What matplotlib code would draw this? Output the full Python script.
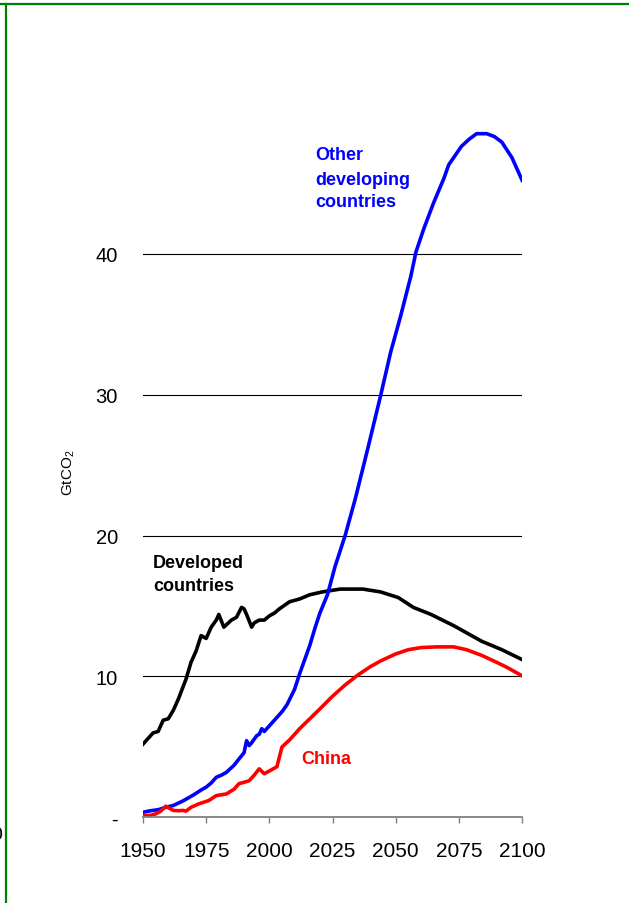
import numpy as np
import matplotlib.pyplot as plt
from matplotlib.lines import Line2D

plt.rcParams['font.family'] = ['Liberation Sans', 'DejaVu Sans']
plt.rcParams['mathtext.default'] = 'regular'

# dane (GtCO2)
years_dev = [1950, 1952, 1954, 1956, 1958, 1960, 1962, 1964, 1967, 1969, 1971, 1973,
             1975, 1977, 1979, 1980, 1982, 1985, 1987, 1989, 1990, 1991, 1993, 1994,
             1996, 1998, 2000, 2002, 2004, 2008, 2012, 2016, 2021, 2028, 2037, 2044,
             2051, 2057, 2064, 2073, 2084, 2092, 2100]
developed = [5.2, 5.6, 6.0, 6.1, 6.9, 7.0, 7.6, 8.4, 9.8, 11.0, 11.8, 12.9,
             12.7, 13.5, 14.0, 14.4, 13.5, 14.0, 14.2, 14.9, 14.8, 14.4, 13.5, 13.8,
             14.0, 14.0, 14.3, 14.5, 14.8, 15.3, 15.5, 15.8, 16.0, 16.2, 16.2, 16.0,
             15.6, 14.9, 14.4, 13.6, 12.5, 11.9, 11.2]

years_chn = [1950, 1953, 1955, 1957, 1959, 1960, 1962, 1964, 1966, 1967, 1969, 1972,
             1976, 1979, 1983, 1986, 1988, 1990, 1992, 1994, 1996, 1998, 2000, 2003,
             2005, 2008, 2012, 2016, 2020, 2025, 2030, 2035, 2040, 2044, 2050, 2055,
             2060, 2066, 2073, 2078, 2084, 2090, 2094, 2100]
china = [0.13, 0.15, 0.25, 0.45, 0.8, 0.7, 0.5, 0.48, 0.5, 0.45, 0.72, 0.96,
         1.2, 1.55, 1.67, 2.0, 2.4, 2.5, 2.6, 3.0, 3.45, 3.1, 3.3, 3.6,
         5.0, 5.5, 6.3, 7.0, 7.7, 8.6, 9.4, 10.1, 10.7, 11.1, 11.6, 11.9,
         12.05, 12.1, 12.1, 11.9, 11.5, 11.0, 10.65, 10.05]

years_oth = [1950, 1953, 1956, 1959, 1962, 1966, 1970, 1973, 1975, 1977, 1979, 1981,
             1983, 1986, 1988, 1990, 1991, 1992, 1993, 1995, 1996, 1997, 1998, 1999,
             2002, 2005, 2007, 2010, 2012, 2014, 2016, 2018, 2020, 2023, 2026, 2030,
             2034, 2039, 2044, 2048, 2052, 2056, 2058, 2061, 2065, 2069, 2071, 2076,
             2079, 2082, 2086, 2089, 2092, 2096, 2100]
other = [0.37, 0.48, 0.55, 0.72, 0.85, 1.19, 1.6, 1.95, 2.15, 2.45, 2.85, 3.0,
         3.2, 3.7, 4.15, 4.6, 5.45, 5.1, 5.3, 5.8, 5.9, 6.3, 6.1, 6.3,
         6.9, 7.5, 8.0, 9.1, 10.2, 11.2, 12.2, 13.4, 14.5, 15.8, 17.8, 20.0,
         22.6, 26.2, 29.9, 33.0, 35.6, 38.4, 40.1, 41.7, 43.6, 45.3, 46.3, 47.6,
         48.1, 48.5, 48.5, 48.3, 47.9, 46.8, 45.2]

xticks = [1950, 1975, 2000, 2025, 2050, 2075, 2100]
yticks = [0, 10, 20, 30, 40]
ylabels = ['-', '10', '20', '30', '40']

fig = plt.figure(figsize=(6.29, 9.04), dpi=100)
ax = fig.add_axes([0.2273, 0.0946, 0.6027, 0.7798])

ax.plot(years_dev, developed, color='black', lw=2.6, solid_joinstyle='round')
ax.plot(years_oth, other, color='#0000ff', lw=2.6, solid_joinstyle='round')
ax.plot(years_chn, china, color='#ff0000', lw=2.6, solid_joinstyle='round')

ax.set_xlim(1950, 2100)
ax.set_ylim(0, 50)
for v in yticks[1:]:
    ax.axhline(v, color='black', lw=0.8, zorder=0)

ax.set_xticks(xticks)
ax.set_yticks(yticks)
ax.set_yticklabels(ylabels)
ax.tick_params(axis='x', direction='out', length=4, width=1, color='#808080',
               labelsize=15, pad=13)
ax.tick_params(axis='y', length=0, labelsize=14.5, pad=18)
for s in ['left', 'right', 'top']:
    ax.spines[s].set_visible(False)
ax.spines['bottom'].set_color('#808080')
ax.spines['bottom'].set_linewidth(1.3)

ax.set_ylabel('GtCO$_2$', fontsize=11)
ax.yaxis.set_label_coords(-0.175, 0.49)

# opisy serii
bold = dict(fontsize=13, fontweight='bold', va='baseline', ha='left')
ax.text(2018, 46.7, 'Other', color='#0000ff', **bold)
ax.text(2018, 44.9, 'developing', color='#0000ff', **bold)
ax.text(2018, 43.37, 'countries', color='#0000ff', **bold)
ax.text(1954, 17.74, 'Developed', color='black', **bold)
ax.text(1954, 16.13, 'countries', color='black', **bold)
ax.text(2012.8, 3.87, 'China', color='#ff0000', fontsize=13, fontweight='bold',
        va='baseline', ha='left')

# zielona ramka i uciety znak z lewej
fig.add_artist(Line2D([0, 1], [1 - 5 / 904, 1 - 5 / 904], color='#008000', lw=1.6))
fig.add_artist(Line2D([5.5 / 629, 5.5 / 629], [0, 1 - 5 / 904], color='#008000', lw=1.6))
fig.text(-9 / 629, 1 - 836 / 904, '0', fontsize=14, va='center', ha='left')

plt.savefig('out.png', dpi=100)
